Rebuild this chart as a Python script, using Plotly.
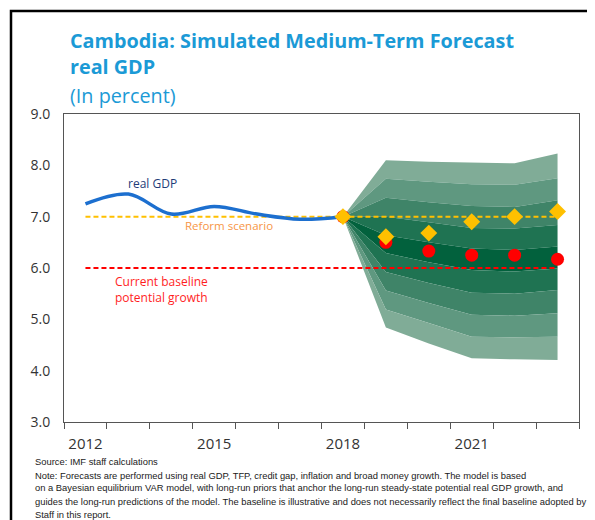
import plotly.graph_objects as go

# historical real GDP growth
gdp_years = [2012, 2013, 2014, 2015, 2016, 2017, 2018]
gdp_growth = [7.25, 7.44, 7.05, 7.2, 7.05, 6.95, 7.0]

# reference lines
line_years = [2012, 2023]
reform_level = [7.0, 7.0]
baseline_level = [6.0, 6.0]

# fan chart bounds, top to bottom
fan_years = [2018, 2019, 2020, 2021, 2022, 2023]
b0 = [7.0, 8.10, 8.07, 8.06, 8.04, 8.23]
b1 = [7.0, 7.74, 7.68, 7.63, 7.62, 7.75]
b2 = [7.0, 7.37, 7.28, 7.21, 7.19, 7.32]
b3 = [7.0, 7.00, 6.89, 6.78, 6.77, 6.84]
b4 = [7.0, 6.64, 6.50, 6.38, 6.35, 6.42]
b5 = [7.0, 6.29, 6.11, 5.96, 5.93, 5.99]
b6 = [7.0, 5.92, 5.71, 5.52, 5.50, 5.57]
b7 = [7.0, 5.56, 5.32, 5.09, 5.07, 5.12]
b8 = [7.0, 5.19, 4.93, 4.66, 4.65, 4.66]
b9 = [7.0, 4.84, 4.53, 4.24, 4.22, 4.21]

# forecast points
baseline_pts = [7.0, 6.5, 6.33, 6.25, 6.25, 6.17]
reform_pts = [7.0, 6.61, 6.68, 6.9, 7.0, 7.1]

year_labels = [2012, 2015, 2018, 2021]

note_lines = [
    "Source: IMF staff calculations",
    "Note: Forecasts are performed using real GDP, TFP, credit gap, inflation and broad money growth. The model is based",
    "on a Bayesian equilibrium VAR model, with long-run priors that anchor the long-run steady-state potential real GDP growth, and",
    "guides the long-run predictions of the model. The baseline is illustrative and does not necessarily reflect the final baseline adopted by",
    "Staff in this report.",
]

bounds = [b0, b1, b2, b3, b4, b5, b6, b7, b8, b9]
shades = ['#80AC97', '#5F9880', '#3F8468', '#1F7352', '#02613D']
band_colors = shades + shades[:-1][::-1]

# page is offset by the body margin, so work in page pixels and shift
OFF = 8
W, H = 595 - OFF, 520 - OFF
PL, PR, PT, PB = 64 - OFF, 579 - OFF, 114 - OFF, 422 - OFF


def px(x):
    return (x - OFF - PL) / (PR - PL)


def py(y):
    return (PB - (y - OFF)) / (PB - PT)


fig = go.Figure()

fig.add_trace(go.Scatter(x=fan_years, y=bounds[0], mode='lines',
                         line=dict(width=0), showlegend=False, hoverinfo='skip'))
for i in range(1, len(bounds)):
    fig.add_trace(go.Scatter(x=fan_years, y=bounds[i], mode='lines',
                             line=dict(width=0), fill='tonexty',
                             fillcolor=band_colors[i - 1],
                             showlegend=False, hoverinfo='skip'))

fig.add_trace(go.Scatter(x=line_years, y=reform_level, mode='lines',
                         line=dict(color='#FFC000', width=2, dash='5px,3px'),
                         showlegend=False))
fig.add_trace(go.Scatter(x=line_years, y=baseline_level, mode='lines',
                         line=dict(color='#FF0000', width=2, dash='5px,3px'),
                         showlegend=False))

fig.add_trace(go.Scatter(x=gdp_years, y=gdp_growth, mode='lines',
                         line=dict(color='#1C6FCF', width=3.5, shape='spline', smoothing=1.0),
                         showlegend=False))

fig.add_trace(go.Scatter(x=fan_years, y=baseline_pts, mode='markers',
                         marker=dict(color='#FF0000', size=13, symbol='circle'),
                         showlegend=False))
fig.add_trace(go.Scatter(x=fan_years, y=reform_pts, mode='markers',
                         marker=dict(color='#FFC000', size=13, symbol='diamond'),
                         showlegend=False))

font_main = "Open Sans, Noto Sans, sans-serif"
title_color = '#1B9AD6'

ann = []
for text, ypx in [("<b>Cambodia: Simulated Medium-Term Forecast</b>", 40),
                  ("<b>real GDP</b>", 67),
                  ("(In percent)", 96)]:
    ann.append(dict(xref='paper', yref='paper', x=px(68), y=py(ypx),
                    xanchor='left', yanchor='middle', showarrow=False, text=text,
                    font=dict(family=font_main, size=19.8, color=title_color)))

ann.append(dict(x=2012.95, y=7.64, text="real GDP", xanchor='left', yanchor='middle',
                showarrow=False, font=dict(family=font_main, size=12, color='#1F3C78')))
ann.append(dict(x=2014.28, y=6.82, text="Reform scenario", xanchor='left', yanchor='middle',
                showarrow=False, font=dict(family=font_main, size=11.5, color='#F79646')))
ann.append(dict(x=2012.64, y=5.58, text="Current baseline<br>potential growth", xanchor='left',
                yanchor='middle', align='left', showarrow=False,
                font=dict(family=font_main, size=12, color='#FF1E1E')))

note_y = [461, 475, 488, 501, 514]
for line, ypx in zip(note_lines, note_y):
    ann.append(dict(xref='paper', yref='paper', x=px(33), y=py(ypx),
                    xanchor='left', yanchor='middle', showarrow=False, text=line,
                    font=dict(family="Liberation Sans, Arial, sans-serif",
                              size=9.4, color='#1A1A1A')))

fig.update_layout(
    width=W, height=H,
    margin=dict(l=PL, r=W - PR, t=PT, b=H - PB, autoexpand=False),
    paper_bgcolor='white', plot_bgcolor='white',
    annotations=ann,
    shapes=[dict(type='rect', xref='paper', yref='paper',
                 x0=px(11), x1=1.2, y0=-0.6, y1=py(11),
                 line=dict(color='black', width=2.5))],
    xaxis=dict(range=[2011.5, 2023.5], tickmode='array', tickvals=year_labels,
               ticktext=[str(y) for y in year_labels], ticks='', showgrid=False,
               zeroline=False, showline=True, linecolor='#555', linewidth=1, mirror=True,
               ticklabelstandoff=8,
               tickfont=dict(family=font_main, size=15, color='#333'),
               minor=dict(ticks='outside', ticklen=6, tickcolor='#555',
                          tick0=2011.5, dtick=1, showgrid=False)),
    yaxis=dict(range=[3, 9], tickmode='linear', tick0=3, dtick=1, tickformat='.1f',
               ticks='', showgrid=False, zeroline=False, showline=True,
               linecolor='#555', linewidth=1, mirror=True, ticklabelstandoff=10,
               tickfont=dict(family=font_main, size=14, color='#333')),
)

fig.write_html("out.html")
